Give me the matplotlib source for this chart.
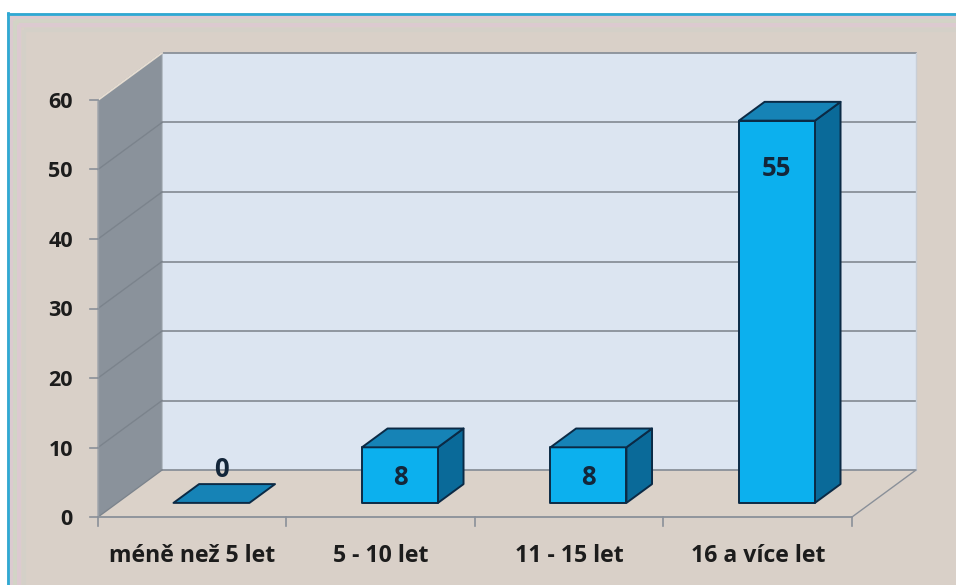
import matplotlib
matplotlib.use("Agg")
import matplotlib.pyplot as plt
from matplotlib.patches import Polygon, Rectangle

# ---- data -------------------------------------------------------------
categories = ["méně než 5 let", "5 - 10 let", "11 - 15 let", "16 a více let"]
values = [0, 8, 8, 55]
y_ticks = [0, 10, 20, 30, 40, 50, 60]

# ---- colours ----------------------------------------------------------
BG = "#d9d0c8"
BACK_WALL = "#dce5f1"
SIDE_WALL = "#8a929b"
GRID = "#8a9099"
SIDE_GRID = "#7b838c"
FRONT = "#0cb0ee"
TOP = "#1683b6"
SIDE = "#0a6a99"
OUTLINE = "#0b2a45"
TEXT = "#1c1c1c"
LABEL = "#13263a"
FONT = ["Open Sans", "DejaVu Sans"]

W, H = 956, 585
fig = plt.figure(figsize=(W / 100, H / 100), dpi=100)
fig.patch.set_facecolor("white")

# one axes over the whole canvas; x in category units, y in value units
ax = fig.add_axes([0, 0, 1, 1])
ax.set_axis_off()
X0_PX, X1_PX = 98, 852          # front plane, horizontal extent
Y0_PX, YTOP_PX = 517, 100       # front plane, value 0 and value 60
n = len(categories)
ymax = y_ticks[-1]
px_cat = (X1_PX - X0_PX) / n
px_val = (Y0_PX - YTOP_PX) / ymax
ax.set_xlim(-X0_PX / px_cat, (W - X0_PX) / px_cat)
ax.set_ylim(-(H - Y0_PX) / px_val, Y0_PX / px_val)

# 3-D depth vector of the plot box
DX = 64 / px_cat
DY = 47 / px_val


def fx(px):
    return px / W


def fy(py):
    return 1 - py / H


# ---- outer frame -------------------------------------------------------
ax.add_patch(Rectangle((fx(7), 0), 1 - fx(7), fy(13), transform=ax.transAxes,
                       facecolor=BG, edgecolor="none", zorder=0))
for off, col in [(4, "#dccad0"), (8, "#d2d4c6"), (12, "#dccad0"), (17, "#d4d0c8")]:
    ax.plot([fx(7 + off), fx(7 + off)], [0, fy(13 + off)], color=col, lw=3,
            transform=ax.transAxes, zorder=0.5, solid_capstyle="butt")
    ax.plot([fx(7 + off), 1], [fy(13 + off), fy(13 + off)], color=col, lw=3,
            transform=ax.transAxes, zorder=0.5, solid_capstyle="butt")
ax.plot([fx(8), fx(8)], [0, fy(13)], color="#2fa9d4", lw=2, transform=ax.transAxes, zorder=1)
ax.plot([fx(8), 1], [fy(13.5), fy(13.5)], color="#2fa9d4", lw=2, transform=ax.transAxes, zorder=1)

# ---- walls and floor ---------------------------------------------------
ax.add_patch(Polygon([(DX, DY), (n + DX, DY), (n + DX, ymax + DY), (DX, ymax + DY)],
                     closed=True, facecolor=BACK_WALL, edgecolor="none", zorder=2))
ax.add_patch(Polygon([(0, 0), (DX, DY), (DX, ymax + DY), (0, ymax)],
                     closed=True, facecolor=SIDE_WALL, edgecolor="#9aa1a8", lw=0.8, zorder=2))
ax.add_patch(Polygon([(0, 0), (n, 0), (n + DX, DY), (DX, DY)],
                     closed=True, facecolor="#dbd2c9", edgecolor="none", zorder=2))

for t in y_ticks:
    ax.plot([DX, n + DX], [t + DY, t + DY], color=GRID, lw=1.3, zorder=3)
    ax.plot([0, DX], [t, t + DY], color=SIDE_GRID, lw=1.0, zorder=3)
ax.plot([n + DX, n + DX], [DY, ymax + DY], color="#c9ced6", lw=1, zorder=3)
ax.plot([0, DX], [ymax, ymax + DY], color="#e6ddd2", lw=1.4, zorder=3)

# floor edges and axes lines
ax.plot([0, n], [0, 0], color=GRID, lw=1.3, zorder=3)
ax.plot([n, n + DX], [0, DY], color=GRID, lw=1.0, zorder=3)
ax.plot([0, 0], [0, ymax], color="#9aa0a7", lw=1.0, zorder=3)

# ticks and tick labels
tick_x = 8 / px_cat
tick_y = 9 / px_val
for t in y_ticks:
    ax.plot([-tick_x, 0], [t, t], color=GRID, lw=1.2, zorder=3)
    ax.text(-25 / px_cat, t - 8 / px_val, str(t), ha="right", va="baseline",
            fontsize=15.5, fontweight="bold", family=FONT, color=TEXT, zorder=5)
for i in range(n + 1):
    ax.plot([i, i], [0, -tick_y], color=GRID, lw=1.2, zorder=3)
for i, cat in enumerate(categories):
    ax.text(i + 0.5, -45 / px_val, cat, ha="center", va="baseline", fontsize=16.6,
            fontweight="bold", family=FONT, color=TEXT, zorder=5)

# ---- bars ---------------------------------------------------------------
t0, t1 = 0.30, 0.70          # bar depth span inside the box
bw = 0.403                   # bar width (category units)
half_digit = 9.5 / px_val    # half the height of a label digit
for i, v in enumerate(values):
    xl = i + 0.5 - bw / 2
    xr = i + 0.5 + bw / 2
    a = (t0 * DX, t0 * DY)
    b = (t1 * DX, t1 * DY)
    top = [(xl + a[0], v + a[1]), (xr + a[0], v + a[1]),
           (xr + b[0], v + b[1]), (xl + b[0], v + b[1])]
    if v > 0:
        front = [(xl + a[0], a[1]), (xr + a[0], a[1]),
                 (xr + a[0], v + a[1]), (xl + a[0], v + a[1])]
        side = [(xr + a[0], a[1]), (xr + b[0], b[1]),
                (xr + b[0], v + b[1]), (xr + a[0], v + a[1])]
        ax.add_patch(Polygon(side, closed=True, facecolor=SIDE, edgecolor=OUTLINE,
                             lw=1.4, joinstyle="round", zorder=4))
        ax.add_patch(Polygon(front, closed=True, facecolor=FRONT, edgecolor=OUTLINE,
                             lw=1.4, joinstyle="round", zorder=4))
    ax.add_patch(Polygon(top, closed=True, facecolor=TOP, edgecolor=OUTLINE,
                         lw=1.4, joinstyle="round", zorder=4))

    # value labels
    if v > 0:
        lc = max(v / 2, v - 6.6) + a[1]
        lx = i + 0.5 + a[0]
    else:
        mid = (t0 + t1) / 2
        lc = v + mid * DY + 26 / px_val
        lx = i + 0.5 + mid * DX - 0.015
    ax.text(lx, lc - half_digit, str(v), ha="center", va="baseline", fontsize=18.5,
            fontweight="bold", family=FONT, color=LABEL, zorder=6)

fig.savefig("out.png", dpi=100, facecolor=fig.get_facecolor())
